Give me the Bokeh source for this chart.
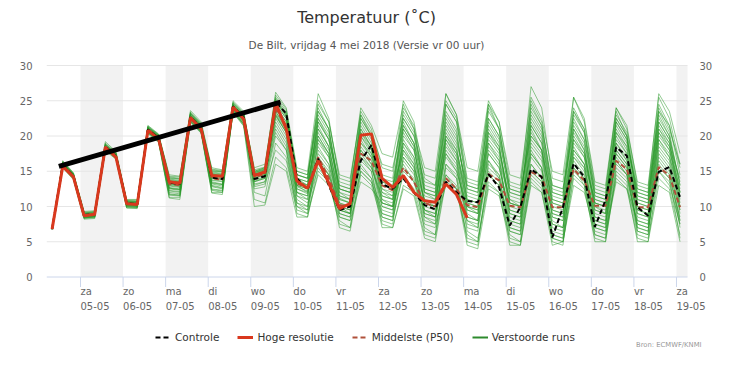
from bokeh.plotting import figure
from bokeh.models import (Range1d, FixedTicker, Label, Legend, LegendItem,
                          ColumnDataSource)
from bokeh.core.properties import value
from bokeh.embed import file_html
from bokeh.resources import INLINE

# ---------------- data ----------------
# forecast times: hours after 4 mei 2018 00:00 (local), 6-hourly
hours = list(range(8, 368, 6))          # 60 steps, 4 mei 08:00 .. 19 mei 02:00

hoge_resolutie = [6.8, 15.7, 14.2, 8.7, 8.9, 18.4, 17.0, 10.4, 10.3, 20.8, 19.6,
                  13.5, 13.3, 22.6, 21.0, 14.4, 14.3, 24.1, 22.4, 14.4, 14.9, 24.7,
                  21.0, 13.6, 12.6, 16.5, 13.3, 9.7, 10.4, 20.1, 20.3, 14.0, 12.7,
                  14.4, 12.0, 10.8, 10.6, 13.2, 11.7, 8.4]

controle = [6.8, 15.8, 14.3, 8.8, 8.9, 18.5, 17.1, 10.5, 10.3, 20.9, 19.7, 13.4,
            13.2, 22.7, 21.1, 14.1, 13.9, 24.2, 22.6,
            13.9, 14.3, 24.8, 23.2, 14.0, 12.4, 16.8, 13.0, 9.5, 10.0, 16.5, 18.7,
            13.2, 12.5, 14.0, 12.0, 10.2, 9.6, 13.5, 12.0, 10.8, 10.6, 14.6, 12.7,
            7.3, 9.9, 15.3, 14.2, 5.6, 9.9, 16.1, 14.2, 7.1, 10.9, 18.4, 17.2, 9.9,
            8.7, 14.9, 15.6, 11.3]

middelste = [6.8, 15.9, 14.3, 8.7, 8.8, 18.5, 17.2, 10.4, 10.4, 20.9, 19.8, 13.2,
             13.0, 22.7, 21.1, 14.0, 13.8, 24.1, 22.5,
             14.2, 14.6, 23.8, 21.5, 13.3, 12.6, 17.0, 14.0, 10.2, 10.0, 17.5, 16.5,
             13.0, 12.3, 15.5, 13.5, 10.5, 10.0, 14.0, 12.5, 10.2, 9.9, 14.6, 13.7,
             10.1, 9.9, 14.9, 14.2, 9.9, 9.9, 15.3, 13.7, 10.1, 10.1, 16.5, 15.3,
             9.9, 9.9, 15.6, 14.4, 9.9]

# perturbed ensemble members: first 19 steps (4 mei 08 .. 8 mei 20)
runs_begin = [
    [6.8,16.0,14.4,8.8,8.9,18.6,17.3,10.6,10.5,21.0,19.9,13.6,13.4,22.9,21.3,14.6,14.4,24.3,22.8],
    [6.8,15.7,14.1,8.6,8.7,18.3,17.0,10.2,10.1,20.7,19.5,12.5,12.3,22.4,20.8,13.2,12.9,23.8,22.0],
    [6.8,16.2,14.6,9.0,9.1,18.8,17.5,10.8,10.7,21.2,20.1,14.0,13.9,23.2,21.6,15.0,14.9,24.6,23.1],
    [6.8,15.6,14.0,8.4,8.5,18.1,16.9,10.0,9.9,20.5,19.3,11.8,11.6,22.1,20.6,12.4,12.2,23.5,21.7],
    [6.8,16.1,14.5,8.9,9.0,18.7,17.4,10.7,10.6,21.1,20.0,13.8,13.6,23.0,21.5,14.8,14.6,24.4,22.9],
    [6.8,15.8,14.2,8.5,8.6,18.2,16.9,10.1,10.0,20.6,19.4,12.0,11.8,22.2,20.7,12.8,12.5,23.6,21.8],
    [6.8,16.0,14.3,8.8,8.9,18.5,17.2,10.5,10.4,20.9,19.8,13.2,13.0,22.7,21.1,14.1,13.9,24.1,22.5],
    [6.8,15.9,14.2,8.6,8.7,18.4,17.1,10.3,10.2,20.8,19.6,12.3,12.1,22.5,20.9,13.0,12.7,23.8,22.1],
    [6.8,16.3,14.7,9.2,9.3,19.0,17.6,10.9,10.9,21.4,20.2,14.3,14.2,23.4,21.8,15.3,15.1,24.8,23.3],
    [6.8,15.7,14.1,8.5,8.6,18.3,17.0,10.2,10.1,20.7,19.5,12.7,12.5,22.5,20.9,13.4,13.1,23.9,22.2],
    [6.8,16.0,14.4,8.7,8.8,18.5,17.3,10.4,10.4,21.0,19.8,13.4,13.2,22.8,21.2,14.3,14.1,24.2,22.6],
    [6.8,15.5,13.9,8.3,8.4,18.0,16.8,9.8,9.8,20.4,19.2,11.3,11.3,22.0,20.5,12.0,12.0,23.4,21.5],
    [6.8,16.1,14.5,8.9,9.0,18.6,17.4,10.6,10.6,21.1,20.0,13.7,13.5,23.0,21.4,14.7,14.5,24.4,22.8],
    [6.8,15.9,14.3,8.7,8.8,18.4,17.1,10.4,10.3,20.8,19.7,13.0,12.8,22.6,21.0,13.8,13.6,24.0,22.4],
    [6.8,16.5,14.8,9.3,9.4,19.2,17.8,11.0,11.0,21.5,20.3,14.5,14.3,23.6,22.0,15.5,15.2,25.0,23.5],
    [6.8,15.8,14.2,8.6,8.7,18.3,17.0,10.2,10.2,20.7,19.5,12.6,12.4,22.4,20.8,13.5,13.2,23.8,22.1],
    [6.8,15.6,14.0,8.4,8.5,18.1,16.8,9.9,9.9,20.5,19.3,11.6,11.5,22.1,20.5,12.3,12.0,23.5,21.6],
    [6.8,16.0,14.4,8.8,8.9,18.6,17.3,10.5,10.5,21.0,19.9,13.5,13.3,22.9,21.3,14.5,14.2,24.2,22.7],
    [6.8,16.0,14.3,8.8,8.9,18.5,17.2,10.4,10.3,20.9,19.7,13.1,12.9,22.7,21.1,14.0,13.8,24.1,22.5],
    [6.8,16.4,14.7,9.1,9.2,18.9,17.6,10.8,10.8,21.3,20.2,14.2,14.0,23.3,21.7,15.2,15.0,24.7,23.2],
    [6.8,15.7,14.1,8.5,8.6,18.2,17.0,10.1,10.0,20.6,19.4,12.2,12.0,22.3,20.7,12.9,12.6,23.7,21.9],
    [6.8,16.1,14.5,8.9,9.0,18.6,17.3,10.6,10.5,21.1,19.9,13.6,13.5,22.9,21.4,14.6,14.4,24.4,22.8],
    [6.8,15.9,14.3,8.7,8.8,18.4,17.1,10.3,10.3,20.8,19.6,12.9,12.7,22.6,21.0,13.7,13.5,23.9,22.3],
    [6.8,15.5,13.8,8.2,8.3,17.9,16.7,9.8,9.7,20.3,19.1,11.2,11.0,21.9,20.4,11.9,11.7,23.3,21.4],
    [6.8,16.1,14.4,8.8,8.9,18.6,17.3,10.5,10.5,21.0,19.9,13.5,13.4,22.9,21.3,14.5,14.3,24.3,22.7],
    [6.8,15.8,14.2,8.6,8.7,18.3,17.1,10.2,10.2,20.7,19.6,12.6,12.4,22.4,20.9,13.3,13.1,23.8,22.2],
    [6.8,16.2,14.6,9.0,9.1,18.7,17.4,10.7,10.6,21.2,20.0,13.9,13.7,23.1,21.5,14.9,14.7,24.5,23.0],
    [6.8,15.6,14.0,8.4,8.5,18.1,16.9,10.0,9.9,20.5,19.3,11.7,11.6,22.1,20.6,12.5,12.3,23.5,21.7],
    [6.8,16.0,14.3,8.7,8.8,18.5,17.2,10.4,10.4,20.9,19.8,13.2,13.1,22.7,21.2,14.2,14.0,24.1,22.5],
    [6.8,16.3,14.6,9.1,9.2,18.8,17.5,10.8,10.7,21.3,20.1,14.1,13.9,23.2,21.6,15.1,14.9,24.6,23.1],
]

# perturbed ensemble members: remaining 41 steps (9 mei 02 .. 19 mei 02)
runs_end = [
    [14.5,15.0,24.8,22.8, 13.8,13.0,21.5,18.5, 11.2,10.5,19.5,17.0, 13.5,12.8,22.0,19.0, 12.0,11.0,17.5,15.0, 10.0,9.0,20.5,18.0, 10.5,10.0,18.0,15.5, 9.0,8.5,19.5,17.0, 10.5,10.0,22.0,19.5, 12.0,11.5,23.5,20.5, 13.0],
    [14.0,14.5,23.5,21.0, 12.5,11.8,17.0,14.5, 9.5,9.0,20.5,18.5, 12.0,11.0,16.0,13.5, 9.5,8.5,14.5,12.5, 8.0,7.0,16.5,14.0, 7.5,7.0,21.0,18.0, 11.0,10.5,15.5,13.0, 7.0,6.5,14.0,12.5, 8.0,7.5,17.0,15.0, 9.5],
    [15.0,15.5,25.5,23.5, 15.0,14.5,24.0,21.0, 12.5,12.0,17.0,15.5, 11.0,10.0,19.5,17.0, 10.5,10.0,22.0,19.5, 12.5,12.0,19.0,16.5, 11.0,10.0,24.5,21.5, 13.0,12.5,21.0,18.0, 10.0,9.0,16.5,14.5, 9.5,9.0,20.0,18.0, 11.5],
    [13.5,14.0,22.0,19.5, 11.5,10.5,15.5,13.5, 8.0,7.0,15.0,13.5, 9.0,8.5,14.5,12.5, 7.0,6.0,16.0,14.0, 6.5,5.5,13.5,12.0, 6.0,5.0,15.0,13.5, 6.0,5.5,17.5,15.5, 8.5,8.0,19.0,16.5, 9.5,9.0,15.0,13.0, 7.5],
    [14.8,15.2,24.2,22.0, 14.0,13.5,20.0,17.5, 10.0,9.5,22.5,20.0, 14.5,14.0,25.0,22.0, 14.0,13.0,26.0,23.0, 14.0,13.5,24.5,21.0, 12.5,12.0,20.5,18.0, 10.5,10.0,23.5,21.0, 12.0,11.5,20.0,17.5, 10.0,9.5,21.5,19.0, 12.0],
    [12.0,11.5,19.0,17.0, 10.0,9.0,18.0,16.0, 10.5,10.0,16.0,14.0, 9.5,9.0,18.0,15.5, 8.5,8.0,19.0,16.5, 9.5,9.0,14.5,13.0, 8.0,7.5,17.0,15.0, 7.5,7.0,15.0,13.5, 6.0,5.5,18.0,16.0, 7.0,6.5,19.5,17.5, 10.0],
    [14.2,14.8,23.0,20.5, 12.0,11.5,22.5,20.0, 13.0,12.5,21.5,19.0, 10.5,10.0,20.0,18.0, 11.5,11.0,23.5,21.0, 10.5,10.0,21.5,19.0, 9.0,8.5,22.0,19.5, 12.0,11.5,25.5,22.0, 13.0,12.5,23.5,20.0, 11.5,11.0,21.0,18.5, 14.0],
    [13.0,13.5,20.5,18.0, 9.0,8.5,16.0,14.5, 7.0,6.5,14.5,13.0, 8.0,7.5,17.0,15.0, 6.5,6.0,15.5,14.0, 5.0,4.5,15.0,13.5, 5.0,4.5,14.0,12.5, 5.5,5.0,14.0,12.5, 5.5,5.0,15.0,13.5, 6.0,5.5,14.0,12.5, 6.0],
    [14.6,15.0,25.0,23.0, 14.5,14.0,25.0,22.0, 14.0,13.5,23.5,21.0, 15.5,15.0,23.0,20.5, 12.5,12.0,25.0,22.5, 13.5,13.0,22.5,20.0, 13.0,12.5,27.0,24.0, 14.0,13.5,24.0,21.0, 12.5,12.0,24.0,21.5, 13.0,12.5,26.0,23.5, 17.5],
    [13.8,14.2,21.5,19.0, 11.0,10.0,19.0,17.0, 9.0,8.5,18.5,16.5, 10.0,9.5,17.0,15.0, 8.5,7.5,20.0,18.0, 11.0,10.5,17.5,15.5, 9.5,9.0,16.0,14.0, 8.0,7.0,19.0,17.0, 8.5,8.0,17.0,15.0, 7.0,6.5,18.5,16.5, 9.0],
    [14.5,15.0,24.0,21.5, 13.0,12.5,20.5,18.0, 10.5,10.0,19.0,17.5, 13.0,12.5,21.0,18.5, 10.0,9.5,21.0,18.5, 10.0,9.5,18.5,16.5, 8.5,8.0,19.0,17.0, 9.5,9.0,21.0,18.5, 9.0,8.5,20.5,18.0, 10.5,10.0,22.0,19.5, 11.0],
    [11.0,10.5,17.0,15.5, 9.5,9.0,14.5,13.0, 8.5,8.0,16.5,15.0, 7.5,7.0,13.0,12.0, 6.0,5.5,14.0,12.5, 4.5,4.0,12.5,11.5, 5.5,5.0,13.5,12.0, 4.5,5.0,13.0,12.0, 6.5,6.0,13.5,12.5, 5.5,5.0,15.5,14.0, 5.5],
    [14.9,15.3,24.5,22.5, 14.0,13.5,23.5,21.0, 12.0,11.5,21.0,18.5, 12.5,11.5,18.5,16.0, 9.0,8.5,19.5,17.0, 9.0,8.0,22.5,20.0, 11.5,11.0,22.5,20.0, 10.0,9.5,18.0,16.0, 11.0,10.5,21.5,19.0, 12.5,12.0,24.5,21.5, 14.5],
    [14.0,14.5,23.0,20.5, 12.5,12.0,18.5,16.0, 9.5,9.0,17.5,15.5, 11.5,11.0,21.5,19.0, 12.0,11.5,18.0,16.0, 8.5,8.0,20.5,18.5, 10.5,10.0,17.5,15.5, 7.0,6.5,20.5,18.0, 10.5,10.0,18.5,16.5, 8.0,7.5,21.0,19.0, 10.5],
    [15.0,15.5,26.2,24.0, 15.5,15.0,26.0,22.5, 13.5,13.0,24.0,21.5, 17.5,17.0,24.5,21.0, 15.5,15.0,26.0,23.0, 15.5,15.0,25.0,22.0, 14.5,14.0,25.5,22.5, 15.0,14.5,25.5,22.5, 13.5,13.0,24.0,21.0, 13.5,13.0,25.5,22.5, 16.0],
    [13.5,14.0,22.5,20.0, 11.5,11.0,21.0,18.5, 11.0,10.5,18.0,16.0, 9.0,8.5,20.5,18.0, 10.5,10.0,17.0,15.0, 9.5,9.0,19.0,17.0, 7.0,6.5,18.5,16.5, 8.5,8.0,17.0,15.5, 7.5,7.0,19.5,17.5, 9.0,8.5,16.5,14.5, 8.0],
    [12.5,12.8,20.0,18.0, 10.5,10.0,17.5,15.5, 8.5,8.0,13.5,12.5, 10.5,10.0,15.5,14.0, 8.0,7.5,13.0,12.0, 6.0,5.0,14.5,13.0, 6.5,6.0,16.0,14.0, 5.0,4.5,16.5,14.5, 7.0,6.5,16.0,14.5, 6.5,6.0,17.5,15.5, 7.0],
    [14.4,14.9,24.3,22.0, 13.5,13.0,22.0,19.5, 12.0,11.0,22.0,19.5, 11.5,11.0,23.5,21.0, 13.0,12.5,22.5,20.0, 12.0,11.5,23.5,21.0, 12.0,11.5,21.5,19.0, 11.5,11.0,22.5,19.5, 11.5,11.0,22.5,20.0, 11.0,10.5,23.0,20.0, 13.0],
    [14.3,14.7,23.8,21.5, 12.0,11.0,16.5,14.5, 10.0,9.5,20.0,18.0, 13.5,13.0,17.5,15.5, 11.0,10.5,20.5,18.0, 11.5,11.0,16.5,14.5, 9.5,9.0,20.0,18.0, 8.5,8.0,16.0,14.0, 9.5,9.0,17.5,15.5, 9.0,8.5,19.0,17.0, 12.0],
    [15.5,16.0,25.8,23.8, 14.5,14.0,24.5,22.0, 14.5,14.0,23.0,20.5, 16.0,15.5,22.5,20.0, 14.5,14.0,24.5,22.0, 13.0,12.5,24.5,22.0, 13.5,13.0,24.0,21.5, 13.0,12.5,23.0,20.5, 12.0,11.5,23.0,20.5, 12.5,12.0,23.5,21.5, 15.5],
    [13.2,13.5,21.0,18.5, 10.5,9.5,19.5,17.5, 10.0,9.0,17.0,15.0, 8.5,8.0,19.0,16.5, 9.5,9.0,18.5,16.5, 7.5,7.0,18.0,16.0, 8.0,7.5,19.5,17.5, 9.0,8.5,18.5,16.0, 8.0,7.5,18.0,16.0, 8.5,8.0,19.5,17.0, 9.5],
    [14.7,15.2,25.0,22.8, 13.0,12.0,23.0,20.5, 11.5,11.0,20.0,17.5, 12.0,11.5,19.0,17.0, 11.0,10.0,23.0,20.5, 11.0,10.5,21.0,18.5, 10.5,10.0,23.5,21.0, 11.0,10.5,19.5,17.5, 10.0,9.5,20.5,18.5, 10.0,9.5,20.5,18.0, 12.5],
    [14.1,14.6,23.2,20.8, 12.8,12.2,19.5,17.0, 11.0,10.5,18.0,16.0, 10.0,9.5,16.5,14.5, 9.5,9.0,16.0,14.5, 8.0,7.5,17.5,15.5, 9.0,8.5,15.0,13.5, 7.5,7.0,18.0,16.0, 8.0,7.5,16.5,14.5, 7.5,7.0,16.0,14.0, 8.5],
    [10.0,10.2,16.0,15.0, 8.5,8.5,15.0,13.5, 7.5,7.0,15.5,14.0, 7.0,7.0,12.5,11.5, 5.5,5.0,13.5,12.5, 5.5,5.0,13.0,12.0, 4.5,4.5,13.0,12.0, 5.5,5.0,14.5,13.0, 5.0,5.0,14.5,13.0, 5.0,5.0,13.0,12.0, 5.0],
    [14.6,15.1,24.6,22.5, 14.0,13.0,21.0,18.5, 11.5,11.0,23.0,20.0, 12.5,12.0,22.5,20.0, 12.5,12.0,19.5,17.5, 10.5,10.0,24.0,21.0, 12.5,12.0,20.0,18.0, 10.5,10.0,21.5,19.0, 10.5,10.0,19.0,17.0, 11.5,11.0,22.5,20.0, 12.0],
    [13.6,14.1,22.8,20.5, 12.0,11.5,20.0,17.5, 9.0,8.5,19.0,17.0, 10.5,10.0,18.0,16.0, 9.0,8.5,17.5,15.5, 8.5,8.0,15.5,14.0, 7.0,6.5,17.5,15.5, 6.0,5.5,17.0,15.0, 7.5,7.0,17.5,15.5, 6.5,6.0,18.0,16.0, 8.0],
    [14.8,15.4,25.3,23.2, 15.0,14.5,22.5,19.5, 13.0,12.5,21.0,18.5, 14.0,13.5,21.5,19.0, 13.5,13.0,21.5,19.0, 13.0,12.5,20.0,18.0, 11.0,10.5,23.0,20.5, 12.5,12.0,22.0,19.5, 11.5,11.0,21.0,18.5, 12.0,11.5,22.0,19.5, 13.5],
    [12.8,13.2,18.0,16.5, 10.0,9.5,17.0,15.0, 9.5,9.0,15.0,13.5, 8.5,8.0,15.0,13.5, 7.5,7.0,14.5,13.0, 7.0,6.5,16.0,14.5, 6.5,6.0,14.5,13.0, 6.5,6.0,15.5,14.0, 6.0,5.5,15.5,14.0, 7.5,7.0,15.0,13.5, 7.5],
    [14.4,14.8,23.5,21.0, 13.0,12.5,22.0,19.5, 12.5,12.0,20.5,18.0, 11.0,10.5,21.0,18.5, 10.5,10.0,20.0,17.5, 10.0,9.5,19.5,17.5, 10.0,9.5,21.5,19.0, 9.5,9.0,20.0,17.5, 9.5,9.0,22.5,20.0, 10.5,10.0,20.5,18.5, 10.0],
    [15.2,15.6,25.2,23.0, 14.5,14.0,23.5,21.0, 12.5,12.0,22.5,20.0, 13.0,12.5,24.0,21.5, 12.0,11.5,24.5,22.0, 12.5,12.0,22.0,19.5, 12.0,11.5,25.0,22.0, 12.0,11.5,23.5,20.5, 11.0,10.5,22.0,19.5, 11.0,10.5,24.0,21.0, 16.0],
]

# hand-drawn trend line (annotation in the original)
trend_hours = [11.8, 136.8]
trend_values = [15.7, 24.8]

# axis ticks and labels
tick_hours = [24, 48, 72, 96, 120, 144, 168, 192, 216, 240, 264, 288, 312, 336, 360]
day_names = ["za", "zo", "ma", "di", "wo", "do", "vr", "za", "zo", "ma", "di",
             "wo", "do", "vr", "za"]
day_dates = ["05-05", "06-05", "07-05", "08-05", "09-05", "10-05", "11-05", "12-05",
             "13-05", "14-05", "15-05", "16-05", "17-05", "18-05", "19-05"]
y_ticks = [0, 5, 10, 15, 20, 25, 30]
y_tick_labels = ["0", "5", "10", "15", "20", "25", "30"]
band_start_hours = [24, 72, 120, 168, 216, 264, 312, 360]

# ---------------- layout ----------------
W, H = 716, 350
FRAME_L = 46                          # frame spans full height and up to the right edge
PLOT_R = 687                          # right edge of the plot area (pixels)
Y0_PX, Y30_PX = 276.5, 65.0           # pixel rows of 0 and 30 degrees
PX_PER_DEG = (Y0_PX - Y30_PX) / 30.0
PX_PER_HOUR = 42.57 / 24.0
X0_PX = 80.0                          # pixel column of tick 05-05 (24 h)
x_start = 24 - (X0_PX - FRAME_L) / PX_PER_HOUR
x_plot_end = 24 + (PLOT_R - X0_PX) / PX_PER_HOUR
x_end = 24 + (W - X0_PX) / PX_PER_HOUR
y_top = 30 + Y30_PX / PX_PER_DEG
y_bottom = -(H - Y0_PX) / PX_PER_DEG


def below_axis(px):
    """data y for a position px pixels below the 0-line"""
    return -px / PX_PER_DEG


FONT = "DejaVu Sans"
p = figure(width=W, height=H, output_backend="svg", toolbar_location=None,
           x_range=Range1d(x_start, x_end), y_range=Range1d(y_bottom, y_top),
           min_border_left=FRAME_L, min_border_right=0,
           min_border_top=0, min_border_bottom=0, x_axis_location=None)
p.outline_line_color = None
p.background_fill_color = "white"
p.border_fill_color = "white"
p.xgrid.visible = False
p.ygrid.visible = False

# alternating day bands
band_src = ColumnDataSource(dict(left=band_start_hours,
                                 right=[min(h + 24, x_plot_end) for h in band_start_hours],
                                 bottom=[0] * len(band_start_hours),
                                 top=[30] * len(band_start_hours)))
p.quad(left="left", right="right", bottom="bottom", top="top",
       source=band_src, fill_color="#f2f2f2", line_color=None)

# horizontal grid lines (0 line is the axis line)
grid_vals = [t for t in y_ticks if t > 0]
p.segment(x0=[x_start] * len(grid_vals), y0=grid_vals,
          x1=[x_plot_end] * len(grid_vals), y1=grid_vals,
          line_color="#e6e6e6", line_width=1)

# left y axis
p.yaxis.ticker = FixedTicker(ticks=y_ticks)
for ax in p.yaxis:
    ax.axis_line_color = None
    ax.major_tick_line_color = None
    ax.minor_tick_line_color = None
    ax.major_tick_out = 0
    ax.major_tick_in = 0
    ax.major_label_standoff = 14
    ax.major_label_text_font = FONT
    ax.major_label_text_font_size = "10px"
    ax.major_label_text_color = "#666666"

# right y axis labels
p.text(x=[x_plot_end + 12 / PX_PER_HOUR] * len(y_ticks), y=y_ticks, text=y_tick_labels,
       text_align="left", text_baseline="middle", text_font=value(FONT),
       text_font_size="10px", text_color="#666666")

# x axis drawn by hand (line, ticks, two-line left-aligned labels)
p.segment(x0=[x_start], y0=[0], x1=[x_plot_end], y1=[0], line_color="#ccd6eb", line_width=1)
p.segment(x0=tick_hours, y0=[0] * len(tick_hours), x1=tick_hours,
          y1=[below_axis(10)] * len(tick_hours), line_color="#ccd6eb", line_width=1)
p.text(x=tick_hours, y=[below_axis(14.5)] * len(tick_hours), text=day_names,
       text_align="left", text_baseline="middle", text_font=value(FONT),
       text_font_size="10px", text_color="#666666")
p.text(x=tick_hours, y=[below_axis(28.5)] * len(tick_hours), text=day_dates,
       text_align="left", text_baseline="middle", text_font=value(FONT),
       text_font_size="10px", text_color="#666666")

# ensemble members
runs = [b + e for b, e in zip(runs_begin, runs_end)]
p.multi_line(xs=[hours] * len(runs), ys=runs, line_color="#2a9a2a",
             line_alpha=0.5, line_width=1)

GREEN = "#2d8a2d"
RED = "#d9381e"
BROWN = "#b0503a"

r_med = p.line(hours, middelste, line_color=BROWN, line_width=2, line_dash="5 3")
r_ctrl = p.line(hours, controle, line_color="black", line_width=2, line_dash="5 3")
r_hr = p.line(hours[:len(hoge_resolutie)], hoge_resolutie, line_color=RED, line_width=3)

# trend line on top
p.line(trend_hours, trend_values, line_color="black", line_width=5)

# legend proxy for ensemble (no visible data)
r_ens = p.line(x=[hours[0]], y=[float("nan")], line_color=GREEN, line_width=2)

legend = Legend(items=[LegendItem(label="Controle", renderers=[r_ctrl]),
                       LegendItem(label="Hoge resolutie", renderers=[r_hr]),
                       LegendItem(label="Middelste (P50)", renderers=[r_med]),
                       LegendItem(label="Verstoorde runs", renderers=[r_ens])],
                location=(155 - FRAME_L, 6), orientation="horizontal",
                glyph_width=16, glyph_height=14, label_standoff=4, spacing=18,
                padding=0, margin=0, border_line_color=None,
                background_fill_alpha=0, label_text_font=FONT,
                label_text_font_size="10.5px", label_text_color="#333333")
p.add_layout(legend, "center")

# titles and credits (screen units relative to the frame)
p.add_layout(Label(x=366 - FRAME_L, y=H - 17, x_units="screen", y_units="screen",
                   text="Temperatuur (˚C)", text_align="center", text_baseline="middle",
                   text_font=FONT, text_font_size="16px", text_color="#333333"))
p.add_layout(Label(x=366 - FRAME_L, y=H - 44, x_units="screen", y_units="screen",
                   text="De Bilt, vrijdag 4 mei 2018 (Versie vr 00 uur)",
                   text_align="center", text_baseline="middle",
                   text_font=FONT, text_font_size="10.5px", text_color="#555555"))
p.add_layout(Label(x=701 - FRAME_L, y=6, x_units="screen", y_units="screen",
                   text="Bron: ECMWF/KNMI", text_align="right", text_baseline="middle",
                   text_font=FONT, text_font_size="6.8px", text_color="#999999"))

open("out.html", "w").write(file_html(p, INLINE))
